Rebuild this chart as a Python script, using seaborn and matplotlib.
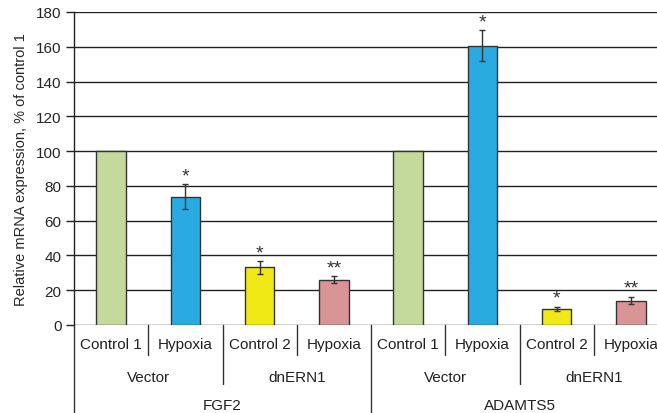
import numpy as np
import pandas as pd
import matplotlib
matplotlib.use("Agg")
import matplotlib.pyplot as plt
import matplotlib.transforms as mtransforms
import seaborn as sns

# data
genes = ["FGF2", "ADAMTS5"]
constructs = ["Vector", "dnERN1"]
conditions = ["Control 1", "Hypoxia", "Control 2", "Hypoxia"]
values = [100, 73.8, 33.2, 25.9, 100, 160.6, 9.2, 14.0]
errors = [0, 7.0, 3.6, 2.0, 0, 9.0, 1.4, 2.2]
stars = ["", "*", "*", "**", "", "*", "*", "**"]
colors = ["#C4D99C", "#29ABE2", "#F1E915", "#D99595"] * 2

keys = [f"{g}|{c}" for g in genes for c in range(4)]
df = pd.DataFrame({"key": keys, "value": values})

sns.set_style("white")
plt.rcParams["font.family"] = ["Liberation Sans", "DejaVu Sans"]

W, H = 657, 414
fig = plt.figure(figsize=(W / 100, H / 100), dpi=100)
ax_l, ax_r, ax_t, ax_b = 74, 668, 13, 326
ax = fig.add_axes([ax_l / W, (H - ax_b) / H, (ax_r - ax_l) / W, (ax_b - ax_t) / H])

sns.barplot(data=df, x="key", y="value", hue="key", order=keys, hue_order=keys,
            palette=colors, saturation=1, width=0.4, edgecolor="#333333",
            linewidth=1, legend=False, ax=ax, zorder=3)

x = np.arange(len(keys))
has_err = np.array(errors) > 0
ax.errorbar(x[has_err], np.array(values)[has_err], yerr=np.array(errors)[has_err],
            fmt="none", ecolor="#333333", elinewidth=1, capsize=2.5, capthick=1, zorder=4)
for xi, v, e, s in zip(x, values, errors, stars):
    if s:
        ax.annotate(s, (xi, v + e), xytext=(0, 0), textcoords="offset points",
                    ha="center", va="bottom", fontsize=14, color="#333333")

ax.set_xlim(-0.5, 7.5)
ax.set_ylim(0, 180)
ax.set_yticks(range(0, 181, 20))
ax.yaxis.grid(True, color="#222222", linewidth=1)
ax.set_axisbelow(True)
for sp in ["top", "right", "bottom"]:
    ax.spines[sp].set_visible(False)
ax.spines["left"].set_color("#222222")
ax.spines["left"].set_linewidth(1)
ax.tick_params(axis="y", left=True, length=6, width=1, color="#222222",
               labelsize=11, pad=3)
ax.set_xticks([])
ax.set_xlabel("")
ax.set_ylabel("Relative mRNA expression, % of control 1", fontsize=10.5, labelpad=6)

# multi-level category axis below the plot
hpx = ax_b - ax_t
trans = mtransforms.blended_transform_factory(ax.transData, ax.transAxes)

def vline(xpos, depth):
    ax.plot([xpos, xpos], [0, -depth / hpx], transform=trans, color="#333333",
            lw=1, clip_on=False)

for xb in [0.5, 2.5, 4.5, 6.5]:
    vline(xb, 30)
for xb in [1.5, 5.5]:
    vline(xb, 59)
for xb in [-0.5, 3.5, 7.5]:
    vline(xb, 92)

for i, key in enumerate(keys):
    ax.text(i, -19 / hpx, conditions[i % 4], transform=trans, ha="center",
            va="center", fontsize=11, color="#222222")
for gi in range(2):
    for ci, c in enumerate(constructs):
        ax.text(gi * 4 + ci * 2 + 0.5, -52 / hpx, c, transform=trans, ha="center",
                va="center", fontsize=11, color="#222222")
    ax.text(gi * 4 + 1.5, -80 / hpx, genes[gi], transform=trans, ha="center",
            va="center", fontsize=11, color="#222222")

fig.savefig("out.png", dpi=100)
